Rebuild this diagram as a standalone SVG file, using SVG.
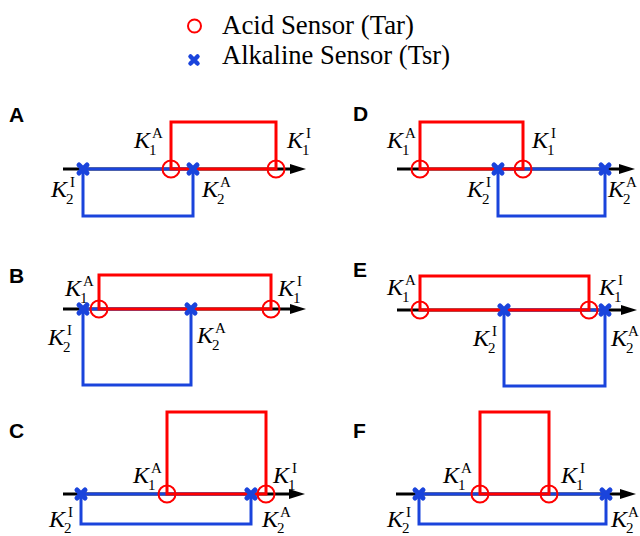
<svg xmlns="http://www.w3.org/2000/svg" xmlns:xlink="http://www.w3.org/1999/xlink" width="640" height="536" viewBox="0 0 640 536">
<style>
.ax{stroke:#000;stroke-width:3;fill:none}
.rd{stroke:#ff0000;stroke-width:3;fill:none}
.bl{stroke:#1a44dc;stroke-width:3;fill:none}
.ci{stroke:#ff0000;stroke-width:2;fill:none}
.k{font-family:'Liberation Serif','Times New Roman',Times,'DejaVu Serif','Noto Serif',serif;font-style:italic;font-size:24px;fill:#000}
.s{font-family:'Liberation Serif','Times New Roman',Times,'DejaVu Serif','Noto Serif',serif;font-size:15px;fill:#000}
.p{font-family:'Liberation Sans',Arial,sans-serif;font-weight:bold;font-size:21px;fill:#000}
.lg{font-family:'Liberation Serif','Times New Roman',Times,'DejaVu Serif','Noto Serif',serif;font-size:26.5px;fill:#000}
</style>
<defs>
<marker id="arr" markerUnits="userSpaceOnUse" viewBox="0 0 16 10" markerWidth="16" markerHeight="10" refX="0" refY="5" orient="auto"><path d="M0,0 L16,5 L0,10 z" fill="#000"/></marker>
<path id="cr" d="M-4,-4 L4,4 M4,-4 L-4,4" stroke="#1a44dc" stroke-width="5" stroke-linecap="round"/>
</defs>
<g id="legend">
<circle cx="194.5" cy="26" r="6.5" class="ci"/>
<text class="lg" x="222" y="34" textLength="192" lengthAdjust="spacingAndGlyphs">Acid Sensor (Tar)</text>
<path d="M-3.5,-3.5 L3.5,3.5 M3.5,-3.5 L-3.5,3.5" transform="translate(194,60)" stroke="#1a44dc" stroke-width="4.5" stroke-linecap="round"/>
<text class="lg" x="222" y="64" textLength="228" lengthAdjust="spacingAndGlyphs">Alkaline Sensor (Tsr)</text>
</g>
<g id="panel-A">
<text class="p" x="9" y="122">A</text>
<line class="ax" x1="63" y1="169" x2="290" y2="169" marker-end="url(#arr)"/>
<rect class="bl" x="83" y="169" width="110" height="47"/>
<rect class="rd" x="171" y="122" width="105" height="47"/>
<use xlink:href="#cr" x="83" y="169"/><use xlink:href="#cr" x="193" y="169"/>
<circle class="ci" cx="171" cy="169" r="8.5"/><circle class="ci" cx="276" cy="169" r="8.5"/>
<g transform="translate(134,148)"><text class="k">K</text><text class="s" x="15" y="7">1</text><text class="s" x="18" y="-10">A</text></g>
<g transform="translate(287,148)"><text class="k">K</text><text class="s" x="15" y="7">1</text><text class="s" x="19" y="-10">I</text></g>
<g transform="translate(51,197)"><text class="k">K</text><text class="s" x="15" y="7">2</text><text class="s" x="19" y="-10">I</text></g>
<g transform="translate(202,197)"><text class="k">K</text><text class="s" x="15" y="7">2</text><text class="s" x="18" y="-10">A</text></g>
</g>
<g id="panel-B">
<text class="p" x="9" y="283">B</text>
<line class="ax" x1="63" y1="309" x2="290" y2="309" marker-end="url(#arr)"/>
<rect class="bl" x="83" y="309" width="108" height="76"/>
<rect class="rd" x="99" y="275" width="172" height="34"/>
<use xlink:href="#cr" x="83" y="309"/><use xlink:href="#cr" x="191" y="309"/>
<circle class="ci" cx="99" cy="309" r="8.5"/><circle class="ci" cx="271" cy="309" r="8.5"/>
<g transform="translate(65,296)"><text class="k">K</text><text class="s" x="15" y="7">1</text><text class="s" x="18" y="-10">A</text></g>
<g transform="translate(278,296)"><text class="k">K</text><text class="s" x="15" y="7">1</text><text class="s" x="19" y="-10">I</text></g>
<g transform="translate(48,345)"><text class="k">K</text><text class="s" x="15" y="7">2</text><text class="s" x="19" y="-10">I</text></g>
<g transform="translate(197,343)"><text class="k">K</text><text class="s" x="15" y="7">2</text><text class="s" x="18" y="-10">A</text></g>
</g>
<g id="panel-C">
<text class="p" x="9" y="438">C</text>
<line class="ax" x1="63" y1="494" x2="289" y2="494" marker-end="url(#arr)"/>
<rect class="bl" x="81" y="494" width="170" height="30"/>
<rect class="rd" x="167" y="412" width="99" height="82"/>
<use xlink:href="#cr" x="81" y="494"/><use xlink:href="#cr" x="251" y="494"/>
<circle class="ci" cx="167" cy="494" r="8.5"/><circle class="ci" cx="266" cy="494" r="8.5"/>
<g transform="translate(133,483)"><text class="k">K</text><text class="s" x="15" y="7">1</text><text class="s" x="18" y="-10">A</text></g>
<g transform="translate(273,483)"><text class="k">K</text><text class="s" x="15" y="7">1</text><text class="s" x="19" y="-10">I</text></g>
<g transform="translate(49,527)"><text class="k">K</text><text class="s" x="15" y="6">2</text><text class="s" x="19" y="-10">I</text></g>
<g transform="translate(262,527)"><text class="k">K</text><text class="s" x="15" y="6">2</text><text class="s" x="18" y="-10">A</text></g>
</g>
<g id="panel-D">
<text class="p" x="353" y="121">D</text>
<line class="ax" x1="397" y1="169" x2="619" y2="169" marker-end="url(#arr)"/>
<rect class="bl" x="498" y="169" width="107" height="47"/>
<rect class="rd" x="420" y="122" width="103" height="47"/>
<use xlink:href="#cr" x="498" y="169"/><use xlink:href="#cr" x="605" y="169"/>
<circle class="ci" cx="420" cy="169" r="8.5"/><circle class="ci" cx="523" cy="169" r="8.5"/>
<g transform="translate(387,148)"><text class="k">K</text><text class="s" x="15" y="7">1</text><text class="s" x="18" y="-10">A</text></g>
<g transform="translate(532,148)"><text class="k">K</text><text class="s" x="15" y="7">1</text><text class="s" x="19" y="-10">I</text></g>
<g transform="translate(467,197)"><text class="k">K</text><text class="s" x="15" y="7">2</text><text class="s" x="19" y="-10">I</text></g>
<g transform="translate(608,197)"><text class="k">K</text><text class="s" x="15" y="7">2</text><text class="s" x="18" y="-10">A</text></g>
</g>
<g id="panel-E">
<text class="p" x="353" y="277">E</text>
<line class="ax" x1="397" y1="310" x2="621" y2="310" marker-end="url(#arr)"/>
<rect class="bl" x="504" y="310" width="101" height="76"/>
<rect class="rd" x="420" y="276" width="169" height="34"/>
<use xlink:href="#cr" x="504" y="310"/><use xlink:href="#cr" x="605" y="310"/>
<circle class="ci" cx="420" cy="310" r="8.5"/><circle class="ci" cx="589" cy="310" r="8.5"/>
<g transform="translate(387,295)"><text class="k">K</text><text class="s" x="15" y="7">1</text><text class="s" x="18" y="-10">A</text></g>
<g transform="translate(599,295)"><text class="k">K</text><text class="s" x="15" y="7">1</text><text class="s" x="19" y="-10">I</text></g>
<g transform="translate(473,346)"><text class="k">K</text><text class="s" x="15" y="7">2</text><text class="s" x="19" y="-10">I</text></g>
<g transform="translate(611,346)"><text class="k">K</text><text class="s" x="15" y="7">2</text><text class="s" x="17" y="-10">A</text></g>
</g>
<g id="panel-F">
<text class="p" x="353" y="438">F</text>
<line class="ax" x1="396" y1="494" x2="620" y2="494" marker-end="url(#arr)"/>
<rect class="bl" x="419" y="494" width="187" height="30"/>
<rect class="rd" x="480" y="412" width="69" height="82"/>
<use xlink:href="#cr" x="419" y="494"/><use xlink:href="#cr" x="606" y="494"/>
<circle class="ci" cx="480" cy="494" r="8.5"/><circle class="ci" cx="549" cy="494" r="8.5"/>
<g transform="translate(443,483)"><text class="k">K</text><text class="s" x="15" y="7">1</text><text class="s" x="18" y="-10">A</text></g>
<g transform="translate(561,483)"><text class="k">K</text><text class="s" x="15" y="7">1</text><text class="s" x="19" y="-10">I</text></g>
<g transform="translate(387,527)"><text class="k">K</text><text class="s" x="15" y="6">2</text><text class="s" x="19" y="-10">I</text></g>
<g transform="translate(611,527)"><text class="k">K</text><text class="s" x="15" y="6">2</text><text class="s" x="17" y="-10">A</text></g>
</g>
</svg>
